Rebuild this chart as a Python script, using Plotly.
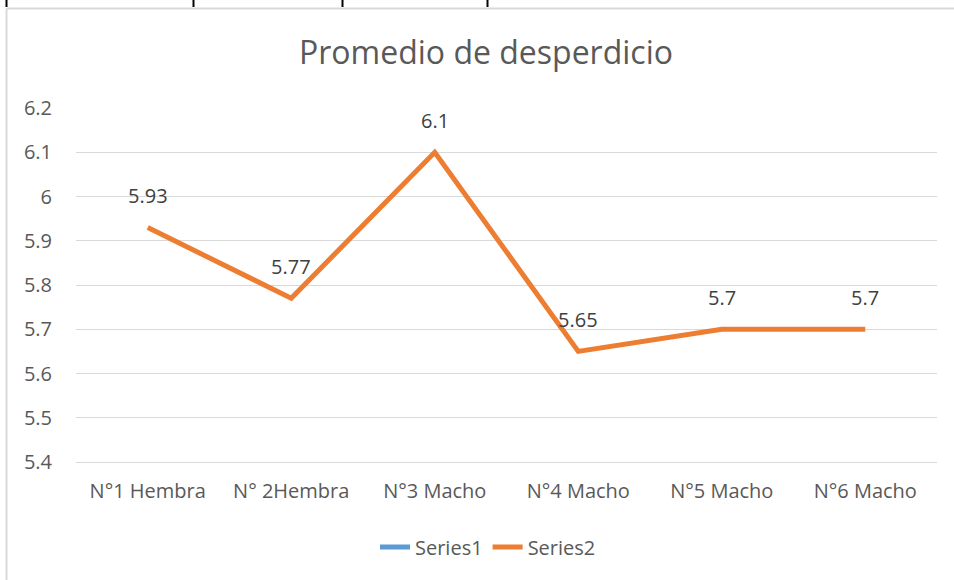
import plotly.graph_objects as go

categories = ["N°1 Hembra", "N° 2Hembra", "N°3 Macho", "N°4 Macho", "N°5 Macho", "N°6 Macho"]
series1 = [None, None, None, None, None, None]
series2 = [5.93, 5.77, 6.1, 5.65, 5.7, 5.7]
series2_labels = ["5.93", "5.77", "6.1", "5.65", "5.7", "5.7"]
y_ticks = [5.4, 5.5, 5.6, 5.7, 5.8, 5.9, 6.0, 6.1, 6.2]
y_ticktext = ["5.4", "5.5", "5.6", "5.7", "5.8", "5.9", "6", "6.1", "6.2"]

W, H = 954, 580
ML, MR, MT, MB = 76, 17, 108, 118
PW, PH = W - ML - MR, H - MT - MB
FONT = "'Open Sans', Lato, sans-serif"
TXT = "#595959"

def px(x):
    return (x - ML) / PW

def py(y):
    return 1 - (y - MT) / PH

fig = go.Figure()
fig.add_trace(go.Scatter(x=categories, y=series1, mode="lines", name="Series1",
                         line=dict(color="#5B9BD5", width=5)))
fig.add_trace(go.Scatter(x=categories, y=series2, mode="lines", name="Series2",
                         line=dict(color="#ED7D31", width=5)))

annotations = []
for c, v, t in zip(categories, series2, series2_labels):
    annotations.append(dict(x=c, y=v, text=t, showarrow=False, yshift=32,
                            font=dict(family=FONT, size=20, color="#404040")))

shapes = [
    dict(type="line", xref="paper", yref="paper", x0=px(6.5), x1=px(6.5), y0=py(8.5), y1=py(580),
         line=dict(color="#D9D9D9", width=2)),
    dict(type="line", xref="paper", yref="paper", x0=px(6.5), x1=px(954), y0=py(8.5), y1=py(8.5),
         line=dict(color="#D9D9D9", width=2)),
]
for xv in [6.5, 193.5, 342.5, 487.5]:
    shapes.append(dict(type="line", xref="paper", yref="paper", x0=px(xv), x1=px(xv), y0=py(0), y1=py(7),
                       line=dict(color="black", width=2)))

fig.update_layout(
    width=W, height=H,
    margin=dict(l=ML, r=MR, t=MT, b=MB),
    paper_bgcolor="white", plot_bgcolor="white",
    title=dict(text="Promedio de desperdicio", x=486 / W, xanchor="center", y=1 - 53 / H, yanchor="middle",
               font=dict(family=FONT, size=32, color=TXT)),
    font=dict(family=FONT, size=20, color=TXT),
    showlegend=True,
    legend=dict(orientation="h", x=px(488), xanchor="center", y=py(547), yanchor="middle",
                font=dict(family=FONT, size=20, color=TXT)),
    annotations=annotations,
    shapes=shapes,
)
fig.update_xaxes(type="category", range=[-0.5, 5.5], showgrid=False, showline=True,
                 linecolor="#D9D9D9", linewidth=1, ticks="", ticklabelstandoff=11,
                 tickfont=dict(family=FONT, size=20, color=TXT), fixedrange=True)
fig.update_yaxes(range=[5.4, 6.2], tickvals=y_ticks, ticktext=y_ticktext, showgrid=True,
                 gridcolor="#D9D9D9", gridwidth=1, zeroline=False, showline=False, ticks="",
                 ticklabelstandoff=23, tickfont=dict(family=FONT, size=20, color=TXT), fixedrange=True)

fig.write_html("out.html", config={"displayModeBar": False},
               post_script="document.body.style.margin='0';")
